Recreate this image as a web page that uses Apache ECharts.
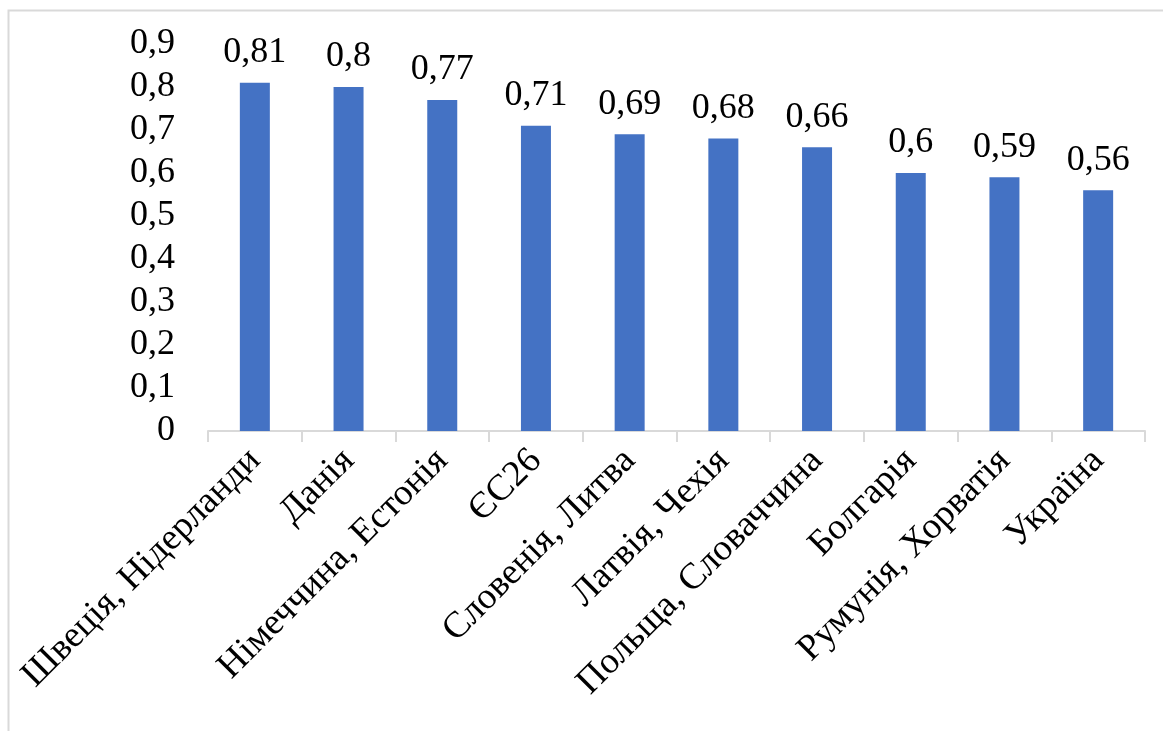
<!DOCTYPE html>
<html>
<head>
<meta charset="utf-8">
<script src="https://cdn.jsdelivr.net/npm/echarts@6/dist/echarts.min.js"></script>
<style>
  html, body { margin: 0; padding: 0; background: #ffffff; }
  #chart { width: 1163px; height: 731px; }
</style>
</head>
<body>
<div id="chart"></div>
<script>
// Countries / groups along the category axis
const categories = [
  'Швеція, Нідерланди',
  'Данія',
  'Німеччина, Естонія',
  'ЄС26',
  'Словенія, Литва',
  'Латвія, Чехія',
  'Польща, Словаччина',
  'Болгарія',
  'Румунія, Хорватія',
  'Україна'
];

// Index values per category
const values = [0.81, 0.8, 0.77, 0.71, 0.69, 0.68, 0.66, 0.6, 0.59, 0.56];

// Value axis range
const yMin = 0;
const yMax = 0.9;
const yStep = 0.1;

const FONT = '"Liberation Serif", "Times New Roman", serif';
const comma = v => String(+Number(v).toFixed(2)).replace('.', ',');

const chart = echarts.init(document.getElementById('chart'), null, { renderer: 'canvas' });

chart.setOption({
  backgroundColor: '#ffffff',
  animation: false,
  graphic: [{
    type: 'rect',
    shape: { x: 8.5, y: 10.5, width: 1300, height: 900 },
    style: { fill: 'none', stroke: '#d9d9d9', lineWidth: 2 },
    silent: true
  }],
  grid: { left: 208, right: 18, top: 44, bottom: 300, containLabel: false },
  xAxis: {
    type: 'category',
    data: categories,
    boundaryGap: true,
    axisLine: { show: true, lineStyle: { color: '#d9d9d9', width: 2 } },
    axisTick: { show: true, length: 11, lineStyle: { color: '#d9d9d9', width: 2 } },
    axisLabel: {
      interval: 0,
      rotate: 45,
      margin: 24,
      color: '#000000',
      fontFamily: FONT,
      fontSize: 37
    }
  },
  yAxis: {
    type: 'value',
    min: yMin,
    max: yMax,
    interval: yStep,
    axisLine: { show: false },
    axisTick: { show: false },
    splitLine: { show: false },
    axisLabel: {
      margin: 33,
      color: '#000000',
      fontFamily: FONT,
      fontSize: 36,
      formatter: v => comma(v)
    }
  },
  series: [{
    type: 'bar',
    data: values,
    barWidth: 30,
    itemStyle: { color: '#4472C4' },
    label: {
      show: true,
      position: 'top',
      distance: 12,
      color: '#000000',
      fontFamily: FONT,
      fontSize: 36,
      formatter: p => comma(p.value)
    }
  }]
});
</script>
</body>
</html>
